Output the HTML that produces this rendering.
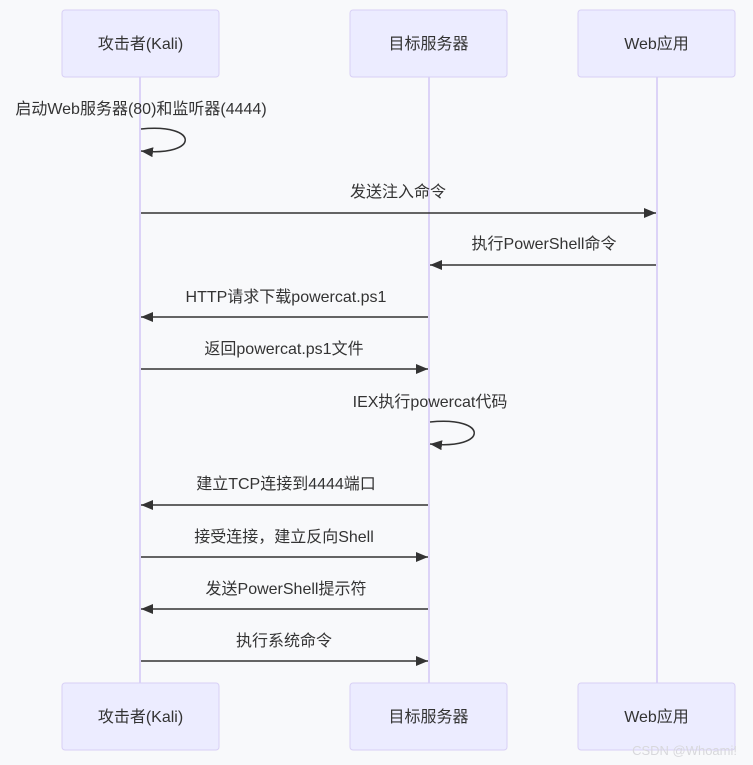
<!DOCTYPE html>
<html><head><meta charset="utf-8"><style>
html,body{margin:0;padding:0;background:#f8f9fb;}
svg{display:block;}
text{font-family:"Liberation Sans","Noto Sans CJK SC",sans-serif;font-size:16px;fill:#333;}
.box{fill:#ececff;stroke:#d8d0f5;stroke-width:1;}
.life{stroke:#dcd3f7;stroke-width:2;}
.msg{stroke:#333;stroke-width:1.5;fill:none;}
</style></head><body>
<svg width="753" height="765" viewBox="0 0 753 765" xmlns="http://www.w3.org/2000/svg">
<defs>
<marker id="ah" markerWidth="12" markerHeight="10" refX="12" refY="5" orient="auto" markerUnits="userSpaceOnUse">
<path d="M0,0 L12,5 L0,10 z" fill="#333"/>
</marker>
</defs>
<rect x="0" y="0" width="753" height="765" fill="#f8f9fb"/>
<line class="life" x1="140" y1="77" x2="140" y2="683"/>
<line class="life" x1="429" y1="77" x2="429" y2="683"/>
<line class="life" x1="657" y1="77" x2="657" y2="683"/>

<rect class="box" x="62" y="10" width="157" height="67" rx="3"/>
<rect class="box" x="350" y="10" width="157" height="67" rx="3"/>
<rect class="box" x="578" y="10" width="157" height="67" rx="3"/>
<text x="140.5" y="49" text-anchor="middle">攻击者(Kali)</text>
<text x="428.5" y="49" text-anchor="middle">目标服务器</text>
<text x="656.5" y="49" text-anchor="middle">Web应用</text>

<rect class="box" x="62" y="683" width="157" height="67" rx="3"/>
<rect class="box" x="350" y="683" width="157" height="67" rx="3"/>
<rect class="box" x="578" y="683" width="157" height="67" rx="3"/>
<text x="140.5" y="722" text-anchor="middle">攻击者(Kali)</text>
<text x="428.5" y="722" text-anchor="middle">目标服务器</text>
<text x="656.5" y="722" text-anchor="middle">Web应用</text>

<text x="141" y="114" text-anchor="middle">启动Web服务器(80)和监听器(4444)</text>
<path class="msg" d="M141,129 C200,123 200,157 141,151" marker-end="url(#ah)"/>

<text x="398" y="197" text-anchor="middle">发送注入命令</text>
<line class="msg" x1="141" y1="213" x2="656" y2="213" marker-end="url(#ah)"/>

<text x="544" y="249" text-anchor="middle">执行PowerShell命令</text>
<line class="msg" x1="656" y1="265" x2="430" y2="265" marker-end="url(#ah)"/>

<text x="286" y="302" text-anchor="middle">HTTP请求下载powercat.ps1</text>
<line class="msg" x1="428" y1="317" x2="141" y2="317" marker-end="url(#ah)"/>

<text x="284" y="354" text-anchor="middle">返回powercat.ps1文件</text>
<line class="msg" x1="141" y1="369" x2="428" y2="369" marker-end="url(#ah)"/>

<text x="430" y="407" text-anchor="middle">IEX执行powercat代码</text>
<path class="msg" d="M430,422 C489,416 489,450 430,444" marker-end="url(#ah)"/>

<text x="286" y="489" text-anchor="middle">建立TCP连接到4444端口</text>
<line class="msg" x1="428" y1="505" x2="141" y2="505" marker-end="url(#ah)"/>

<text x="284" y="542" text-anchor="middle">接受连接，建立反向Shell</text>
<line class="msg" x1="141" y1="557" x2="428" y2="557" marker-end="url(#ah)"/>

<text x="286" y="594" text-anchor="middle">发送PowerShell提示符</text>
<line class="msg" x1="428" y1="609" x2="141" y2="609" marker-end="url(#ah)"/>

<text x="284" y="646" text-anchor="middle">执行系统命令</text>
<line class="msg" x1="141" y1="661" x2="428" y2="661" marker-end="url(#ah)"/>

<text x="737" y="755" text-anchor="end" style="font-size:13px;fill:#d8d8dc;">CSDN @Whoami!</text>
</svg>
</body></html>
